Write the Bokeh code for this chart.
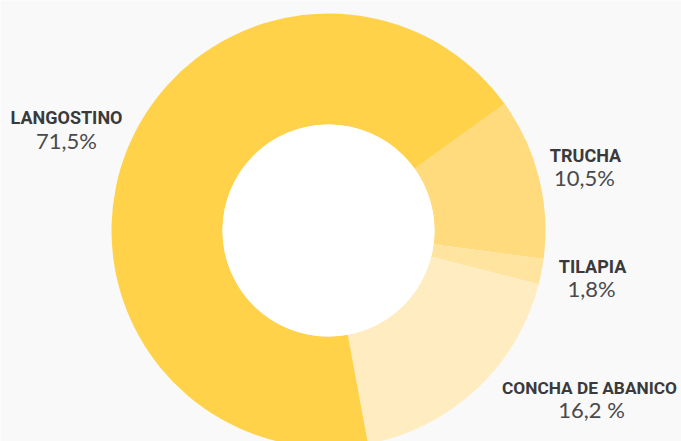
import numpy as np
from bokeh.plotting import figure
from bokeh.models import ColumnDataSource, Range1d
from bokeh.core.properties import value
from bokeh.embed import file_html
from bokeh.resources import INLINE

# ---- data ----
categories = ["TRUCHA", "TILAPIA", "CONCHA DE ABANICO", "LANGOSTINO"]
shares = [12.0, 1.9, 18.1, 68.0]          # slice sizes as drawn (%)
share_labels = ["10,5%", "1,8%", "16,2 %", "71,5%"]
colors = ["#FFDB7D", "#FFE4A0", "#FFEDC1", "#FFD24A"]

# ---- layout ----
W, H = 681, 441
CX, CY = 328, 211
R_IN, R_OUT = 106, 217
START_DEG = 54.3   # clockwise from 12 o'clock
name_pos = [(585, 286), (592, 175), (589, 54), (66, 324)]
name_size = ["18px", "18px", "17.3px", "18px"]
val_pos = [(584, 264), (591, 153), (591, 32), (66, 301)]

s = np.array(shares, dtype=float)
cum = np.concatenate([[0], np.cumsum(s)]) / s.sum() * 360.0
theta_s = START_DEG + cum[:-1]
theta_e = START_DEG + cum[1:]
src = ColumnDataSource(dict(
    cat=categories, color=colors,
    start=np.radians(90 - theta_e), end=np.radians(90 - theta_s),
))

p = figure(width=W, height=H, x_range=Range1d(0, W), y_range=Range1d(0, H),
           output_backend="svg", toolbar_location=None, min_border=0,
           x_axis_location=None, y_axis_location=None)
p.grid.visible = False
p.outline_line_color = None
p.background_fill_color = "#F9F9F9"
p.border_fill_color = "#F9F9F9"

p.annular_wedge(x=CX, y=CY, inner_radius=R_IN, outer_radius=R_OUT,
                start_angle="start", end_angle="end", fill_color="color",
                line_color=None, source=src)
p.circle(x=[CX], y=[CY], radius=R_IN, fill_color="#FFFFFF", line_color=None)

lab = ColumnDataSource(dict(
    x=[q[0] for q in name_pos], y=[q[1] for q in name_pos], t=categories,
    fs=name_size))
vl = ColumnDataSource(dict(
    x=[q[0] for q in val_pos], y=[q[1] for q in val_pos], t=share_labels))
p.text(x="x", y="y", text="t", source=lab, text_font=value("Roboto"),
       text_font_style="bold", text_font_size="fs", text_color="#3a3a3c",
       text_align="center", text_baseline="middle")
p.text(x="x", y="y", text="t", source=vl, text_font=value("Lato"),
       text_font_size="22px", text_color="#4a4a4c",
       text_align="center", text_baseline="middle")

open("out.html", "w").write(file_html(p, INLINE))
